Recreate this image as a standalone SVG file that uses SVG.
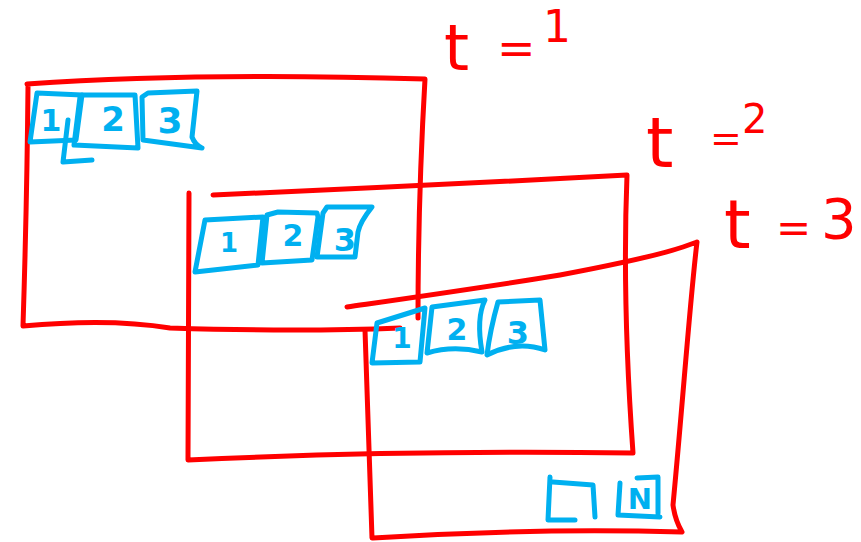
<svg xmlns="http://www.w3.org/2000/svg" width="861" height="542" viewBox="0 0 861 542">
<style>
.r{fill:none;stroke:#ff0000;stroke-width:5;stroke-linecap:round;stroke-linejoin:round}
.b{fill:none;stroke:#00b0f0;stroke-width:5;stroke-linecap:round;stroke-linejoin:round}
.bt{fill:#00b0f0;font-family:"DejaVu Sans",sans-serif;font-weight:bold;text-anchor:middle}
.rt{fill:#ff0000;font-family:"DejaVu Sans",sans-serif}
</style>
<rect width="861" height="542" fill="#ffffff"/>
<g id="frame1">
<path class="r" d="M27,84 Q200,72 425,79 M425,79 Q418,200 418,318 M28,86 Q27,200 23,326 M23,326 Q110,318 170,328 Q300,332 400,328"/>
</g>
<g id="frame2">
<path class="r" d="M213,195 Q420,186 627,175 M627,175 Q622,300 633,453 M633,453 Q400,450 188,460 M189,193 L188,460"/>
</g>
<g id="frame3">
<path class="r" d="M347,307 C430,295 500,285 560,275 Q650,258 683,247 L697,242 M697,242 C690,300 683,400 673,505 Q675,520 682,532 M682,532 Q530,528 373,538 M365,330 L372,538"/>
</g>
<g id="label-t1"><text class="rt"><tspan x="444" y="70" font-size="64">t</tspan><tspan x="497" y="64" font-size="46">=</tspan><tspan x="543" y="42" font-size="44">1</tspan></text></g>
<g id="label-t2"><text class="rt"><tspan x="646" y="167" font-size="70">t</tspan><tspan x="710" y="151" font-size="38">=</tspan><tspan x="742" y="133" font-size="40">2</tspan></text></g>
<g id="label-t3"><text class="rt"><tspan x="724" y="248" font-size="68">t</tspan><tspan x="776" y="242" font-size="42">=</tspan><tspan x="821" y="238" font-size="56">3</tspan></text></g>
<g id="t1-boxes">
<path class="b" d="M37,93 L82,95 L76,140 L30,142 Z"/>
<path class="b" d="M82,95 L135,95 L138,148 L74,145 L80,97"/>
<path class="b" d="M142,97 L148,93 L197,91 L192,137 Q195,145 202,148 L143,140 Z"/>
<path class="b" d="M68,120 L63,162 L92,160"/>
<text class="bt" x="51" y="131" font-size="30">1</text>
<text class="bt" x="113" y="131" font-size="34">2</text>
<text class="bt" x="170" y="133" font-size="36">3</text>
</g>
<g id="t2-boxes">
<path class="b" d="M205,220 L263,217 L258,265 L195,272 Z"/>
<path class="b" d="M267,215 L278,212 L317,213 L318,217 L312,260 L262,263 Z"/>
<path class="b" d="M323,213 L327,207 L372,207 Q360,222 358,232 L355,257 L317,257 Z"/>
<text class="bt" x="229" y="252" font-size="26">1</text>
<text class="bt" x="293" y="246" font-size="30">2</text>
<text class="bt" x="345" y="251" font-size="32">3</text>
</g>
<g id="t3-boxes">
<path class="b" d="M377,323 L425,308 L420,362 L372,363 Z"/>
<path class="b" d="M432,307 L485,300 Q476,318 482,352 Q453,345 427,353 Z"/>
<path class="b" d="M498,302 L540,300 L545,350 Q517,340 487,355 Q490,330 498,302 Z"/>
<text class="bt" x="402" y="348" font-size="28">1</text>
<text class="bt" x="457" y="340" font-size="30">2</text>
<text class="bt" x="518" y="344" font-size="32">3</text>
</g>
<g id="tail-boxes">
<path class="b" d="M550,477 L548,520 L575,520 M553,482 L593,485 L595,517"/>
<path class="b" d="M620,483 L618,515 L660,517 M637,478 L658,477 L658,513"/>
<text class="bt" x="640" y="509" font-size="29">N</text>
</g>
</svg>
